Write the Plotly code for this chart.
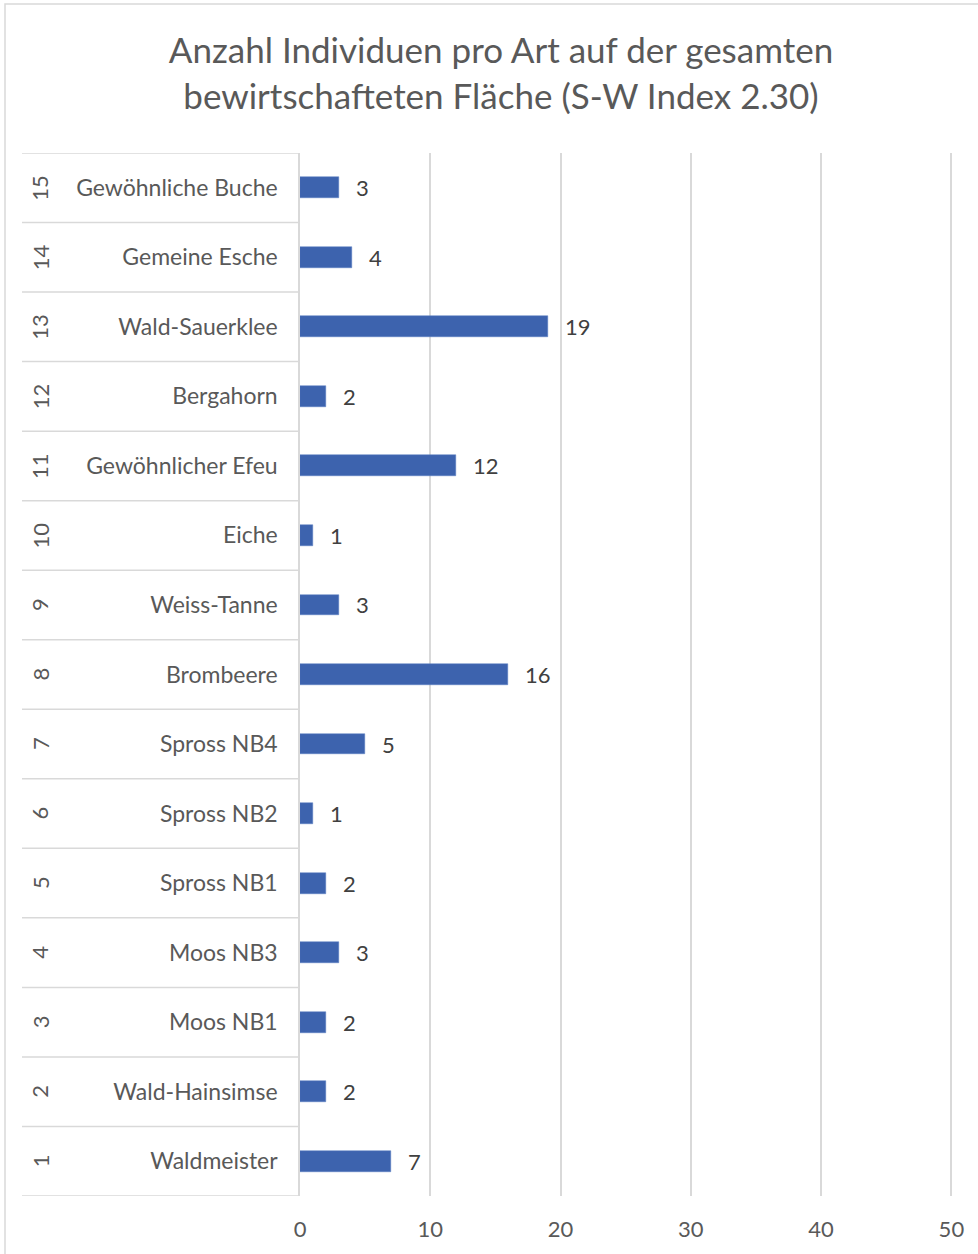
import plotly.graph_objects as go

numbers = list(range(1, 16))
names = ["Waldmeister", "Wald-Hainsimse", "Moos NB1", "Moos NB3", "Spross NB1",
         "Spross NB2", "Spross NB4", "Brombeere", "Weiss-Tanne", "Eiche",
         "Gewöhnlicher Efeu", "Bergahorn", "Wald-Sauerklee", "Gemeine Esche",
         "Gewöhnliche Buche"]
values = [7, 2, 2, 3, 2, 1, 5, 16, 3, 1, 12, 2, 19, 4, 3]
x_ticks = [0, 10, 20, 30, 40, 50]

FONT = "Lato"
W, H = 978, 1254
L, R, T, B = 300, 24, 153, 58
pw, ph = W - L - R, H - T - B

def px_x(p):
    return (p - L) / pw

def px_y(p):
    return (H - B - p) / ph

fig = go.Figure()
fig.add_trace(go.Bar(
    x=values, y=numbers, orientation="h", width=0.3,
    marker=dict(color="#3d63ae", line=dict(color="#5b7fc2", width=0.5)),
    hoverinfo="skip",
))

annotations = []
for n, v in zip(numbers, values):
    annotations.append(dict(x=v, y=n, xref="x", yref="y", text=str(v),
                            showarrow=False, xanchor="left", xshift=15,
                            font=dict(family=FONT, size=22, color="#404040")))
    annotations.append(dict(x=px_x(40), y=n, xref="paper", yref="y", text=str(n),
                            showarrow=False, textangle=-90, xanchor="center",
                            font=dict(family=FONT, size=22, color="#595959")))

shapes = []
for k in range(16):
    shapes.append(dict(type="line", xref="paper", yref="y", x0=px_x(22), x1=0,
                       y0=k + 0.5, y1=k + 0.5, line=dict(color="#d9d9d9", width=1.5)))
shapes.append(dict(type="rect", xref="paper", yref="paper", x0=px_x(5), x1=px_x(1010),
                   y0=px_y(1270), y1=px_y(4), line=dict(color="#d9d9d9", width=1.5),
                   layer="below"))

fig.update_layout(
    width=W, height=H,
    margin=dict(l=L, r=R, t=T, b=B),
    paper_bgcolor="white", plot_bgcolor="white",
    showlegend=False,
    title=dict(text="Anzahl Individuen pro Art auf der gesamten<br>bewirtschafteten Fläche (S-W Index 2.30)",
               x=501 / W, xanchor="center", xref="container",
               y=1 - 63 / H, yanchor="middle", yref="container",
               font=dict(family=FONT, size=35, color="#595959")),
    xaxis=dict(range=[0, 50.2], tickvals=x_ticks, showgrid=True, gridcolor="#d9d9d9",
               gridwidth=1.5, zeroline=False, showline=False, ticks="",
               tickfont=dict(family=FONT, size=22, color="#595959"),
               ticklabelstandoff=18, fixedrange=True),
    yaxis=dict(range=[0.5, 15.5], tickvals=numbers, ticktext=names, showgrid=False,
               zeroline=False, showline=True, linecolor="#d9d9d9", linewidth=1.5,
               ticks="", tickfont=dict(family=FONT, size=23, color="#595959"),
               ticklabelstandoff=16),
    annotations=annotations,
    shapes=shapes,
    bargap=0,
)

fig.write_html("out.html")
